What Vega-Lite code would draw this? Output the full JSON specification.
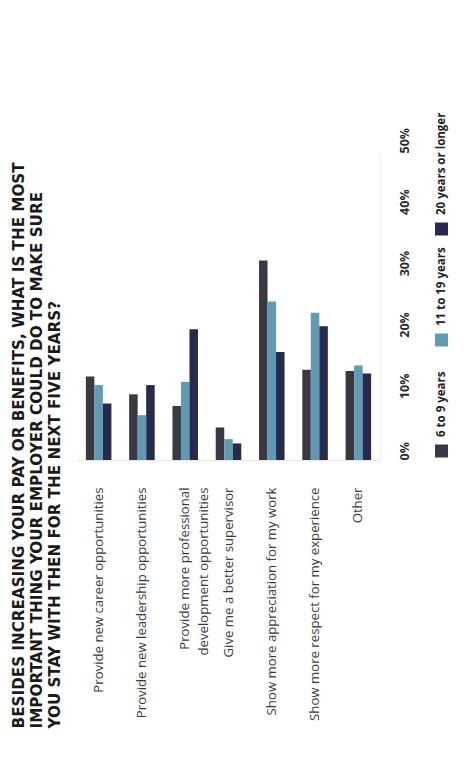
{
  "$schema": "https://vega.github.io/schema/vega-lite/v6.json",
  "autosize": {"type": "none"},
  "width": 303,
  "height": 307,
  "padding": {"left": 77, "top": 153, "right": 85, "bottom": 308},
  "background": "#ffffff",
  "view": {"stroke": null},
  "title": {
    "text": ["BESIDES INCREASING YOUR PAY OR BENEFITS, WHAT IS THE MOST", "IMPORTANT THING YOUR EMPLOYER COULD DO TO MAKE SURE", "YOU STAY WITH THEN FOR THE NEXT FIVE YEARS?"],
    "orient": "left",
    "anchor": "start",
    "frame": "bounds",
    "font": "DejaVu Sans",
    "fontSize": 15.2,
    "fontWeight": "bold",
    "color": "#1a1a1a",
    "lineHeight": 18,
    "offset": 14,
    "dx": -8
  },
  "data": {
    "values": [
      {"category": "Provide new career opportunities", "group": "6 to 9 years", "value": 13.6},
      {"category": "Provide new career opportunities", "group": "11 to 19 years", "value": 12.2},
      {"category": "Provide new career opportunities", "group": "20 years or longer", "value": 9.2},
      {"category": "Provide new leadership opportunities", "group": "6 to 9 years", "value": 10.7},
      {"category": "Provide new leadership opportunities", "group": "11 to 19 years", "value": 7.3},
      {"category": "Provide new leadership opportunities", "group": "20 years or longer", "value": 12.2},
      {"category": "Provide more professional development opportunities", "group": "6 to 9 years", "value": 8.8},
      {"category": "Provide more professional development opportunities", "group": "11 to 19 years", "value": 12.7},
      {"category": "Provide more professional development opportunities", "group": "20 years or longer", "value": 21.3},
      {"category": "Give me a better supervisor", "group": "6 to 9 years", "value": 5.3},
      {"category": "Give me a better supervisor", "group": "11 to 19 years", "value": 3.4},
      {"category": "Give me a better supervisor", "group": "20 years or longer", "value": 2.7},
      {"category": "Show more appreciation for my work", "group": "6 to 9 years", "value": 32.5},
      {"category": "Show more appreciation for my work", "group": "11 to 19 years", "value": 25.8},
      {"category": "Show more appreciation for my work", "group": "20 years or longer", "value": 17.6},
      {"category": "Show more respect for my experience", "group": "6 to 9 years", "value": 14.7},
      {"category": "Show more respect for my experience", "group": "11 to 19 years", "value": 24.0},
      {"category": "Show more respect for my experience", "group": "20 years or longer", "value": 21.8},
      {"category": "Other", "group": "6 to 9 years", "value": 14.5},
      {"category": "Other", "group": "11 to 19 years", "value": 15.4},
      {"category": "Other", "group": "20 years or longer", "value": 14.1}
    ]
  },
  "mark": {"type": "bar"},
  "encoding": {
    "x": {
      "field": "category",
      "type": "nominal",
      "sort": null,
      "scale": {"paddingInner": 0.41, "paddingOuter": 0.205},
      "axis": {
        "title": null,
        "orient": "bottom",
        "labelAngle": 270,
        "labelAlign": "right",
        "labelBaseline": "middle",
        "labelPadding": 27,
        "labelFont": "Open Sans",
        "labelFontSize": 13.2,
        "labelColor": "#3a3a3a",
        "labelLimit": 300,
        "labelLineHeight": 19,
        "labelExpr": "datum.value == 'Provide more professional development opportunities' ? ['Provide more professional', 'development opportunities'] : datum.label",
        "ticks": false,
        "domain": true,
        "domainColor": "#cfd3d8",
        "domainDash": [2, 2],
        "grid": false
      }
    },
    "xOffset": {
      "field": "group",
      "type": "nominal",
      "scale": {"domain": ["6 to 9 years", "11 to 19 years", "20 years or longer"], "paddingInner": 0}
    },
    "y": {
      "field": "value",
      "type": "quantitative",
      "scale": {"domain": [0, 50], "nice": false},
      "axis": {
        "title": null,
        "orient": "right",
        "values": [0, 10, 20, 30, 40, 50],
        "labelExpr": "datum.value + '%'",
        "labelAngle": 270,
        "labelAlign": "left",
        "labelBaseline": "middle",
        "labelPadding": 24,
        "labelFont": "Open Sans",
        "labelFontSize": 12.5,
        "labelFontWeight": "bold",
        "labelColor": "#2a2a2a",
        "ticks": false,
        "domain": true,
        "domainColor": "#eeeeee",
        "grid": false
      }
    },
    "color": {
      "field": "group",
      "type": "nominal",
      "scale": {
        "domain": ["20 years or longer", "11 to 19 years", "6 to 9 years"],
        "range": ["#262a4c", "#5f9cb4", "#3b3842"]
      },
      "legend": {
        "title": null,
        "orient": "none",
        "legendX": 358,
        "legendY": 76,
        "direction": "vertical",
        "padding": 0,
        "gridAlign": "all",
        "symbolType": "square",
        "symbolSize": 169,
        "symbolStrokeWidth": 0,
        "labelFont": "Open Sans",
        "labelFontSize": 11.5,
        "labelFontWeight": "bold",
        "labelColor": "#222222",
        "labelAlign": "left",
        "labelBaseline": "middle",
        "rowPadding": 11,
        "labelLimit": 200,
        "encoding": {
          "symbols": {"y": {"value": 0}},
          "labels": {"angle": {"value": 270}, "x": {"value": 6.5}, "y": {"value": -14}}
        }
      }
    }
  }
}
